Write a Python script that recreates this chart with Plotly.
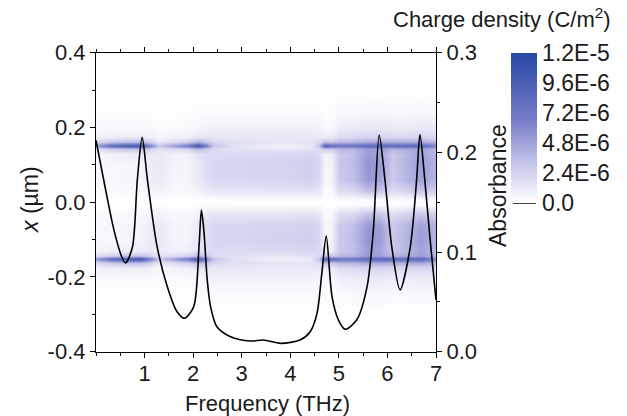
import numpy as np
import plotly.graph_objects as go

# ---- charge-density map: frequency nodes (THz) and position nodes (um) ----
FREQ = [0.0, 0.3, 0.6, 0.9, 1.1, 1.3, 1.6, 1.9, 2.1, 2.25, 2.4, 2.8, 3.2, 3.6,
        4.0, 4.4, 4.6, 4.72, 4.85, 5.0, 5.3, 5.6, 5.85, 6.1, 6.4, 6.7, 7.0]
# strength (1e-6 C/m^2) of the edge lines, the inner bands and the outer halo
EDGE_AMP = [5, 8, 9.5, 10, 7, 3, 5, 7, 10, 7, 3, 1.5, 1, 0.5,
            0.5, 0.8, 3, 9, 8, 7, 7, 8, 8, 8, 8, 8, 6]
BAND_AMP = [0.4, 0.4, 0.5, 0.6, 1.0, 1.2, 0.6, 0.6, 1.2, 1.8, 2.2, 2.2, 2.3, 2.4,
            2.4, 2.6, 2.2, 0.4, 0.8, 3.0, 3.5, 5.5, 5.0, 3.0, 4.0, 5.0, 4.0]
HALO_AMP = [0.6, 0.6, 0.6, 0.6, 0.6, 0.4, 0.5, 0.6, 1.0, 1.2, 1.4, 1.4, 1.4, 1.4,
            1.4, 1.4, 1.2, 0.6, 0.8, 1.8, 2.0, 2.2, 2.2, 2.0, 2.0, 2.2, 2.0]

POS = [-0.4, -0.3, -0.24, -0.2, -0.175, -0.162, -0.152, -0.142, -0.13, -0.1, -0.06,
       -0.03, -0.008, 0.008, 0.03, 0.06, 0.1, 0.13, 0.142, 0.152, 0.162, 0.175,
       0.2, 0.24, 0.3, 0.4]
EDGE_PROF = [0, 0, 0, 0, 0.05, 0.3, 1, 0.3, 0.05, 0, 0, 0, 0,
             0, 0, 0, 0, 0.05, 0.3, 1, 0.3, 0.05, 0, 0, 0, 0]
BAND_PROF = [0, 0, 0, 0, 0, 0, 0, 0.5, 0.85, 1, 0.95, 0.6, 0.05,
             0.05, 0.6, 0.95, 1, 0.85, 0.5, 0, 0, 0, 0, 0, 0, 0]
HALO_PROF = [0, 0, 0.2, 0.55, 0.85, 0.9, 0.2, 0, 0, 0, 0, 0, 0,
             0, 0, 0, 0, 0, 0, 0.2, 0.9, 0.85, 0.55, 0.2, 0, 0]

# ---- absorbance spectrum ----
FREQ_A = [0.0, 0.16, 0.37, 0.54, 0.61, 0.75, 0.85, 0.95, 1.06, 1.26, 1.47, 1.67,
          1.82, 2.01, 2.12, 2.17, 2.22, 2.29, 2.36, 2.49, 2.77, 3.18, 3.45, 3.8,
          4.2, 4.41, 4.55, 4.65, 4.74, 4.86, 4.99, 5.13, 5.37, 5.58, 5.71, 5.83,
          5.95, 6.09, 6.26, 6.47, 6.6, 6.67, 6.77, 6.88, 7.0]
ABSORB = [0.212, 0.172, 0.122, 0.094, 0.089, 0.105, 0.172, 0.215, 0.172, 0.105,
          0.065, 0.040, 0.0335, 0.045, 0.105, 0.142, 0.122, 0.072, 0.045, 0.025,
          0.015, 0.0107, 0.0117, 0.0084, 0.0117, 0.020, 0.0385, 0.079, 0.116,
          0.055, 0.032, 0.0225, 0.032, 0.065, 0.122, 0.2175, 0.172, 0.105, 0.062,
          0.105, 0.172, 0.218, 0.172, 0.112, 0.052]

X_TICKS = [1, 2, 3, 4, 5, 6, 7]
Y_TICKS = [-0.4, -0.2, 0.0, 0.2, 0.4]
Y_TICKTEXT = ["-0.4", "-0.2", "0.0", "0.2", "0.4"]
A_TICKS = [0.0, 0.1, 0.2, 0.3]
A_TICKTEXT = ["0.0", "0.1", "0.2", "0.3"]
CB_TICKS = [0.0, 2.4e-6, 4.8e-6, 7.2e-6, 9.6e-6, 1.2e-5]
CB_TICKTEXT = ["0.0", "2.4E-6", "4.8E-6", "7.2E-6", "9.6E-6", "1.2E-5"]

z = 1e-6 * (np.outer(EDGE_PROF, EDGE_AMP)
            + np.outer(BAND_PROF, BAND_AMP)
            + np.outer(HALO_PROF, HALO_AMP))

W, H = 627, 416
FONT = "Liberation Sans, Arial, sans-serif"
TXT = "#1a1a1a"
x0, x1 = 96 / W, 436 / W
y0, y1 = (H - 351.7) / H, (H - 52.7) / H

fig = go.Figure()
fig.add_trace(go.Heatmap(
    x=FREQ, y=POS, z=z, zmin=0, zmax=1.2e-5, zsmooth="best",
    colorscale=[[0, "rgb(255,255,255)"], [0.25, "rgb(200,200,235)"],
                [0.55, "rgb(120,125,200)"], [1, "rgb(38,72,165)"]],
    colorbar=dict(
        x=511 / W, xanchor="left", xpad=0,
        y=1 - 53 / H, yanchor="top", ypad=0,
        len=150, lenmode="pixels", thickness=26,
        outlinewidth=0, ticks="",
        tickvals=CB_TICKS, ticktext=CB_TICKTEXT,
        tickfont=dict(family=FONT, size=23, color=TXT),
    ),
    hoverinfo="skip",
))
fig.add_trace(go.Scatter(
    x=FREQ_A, y=ABSORB, yaxis="y2", mode="lines",
    line=dict(color="black", width=1.6, shape="spline", smoothing=0.8),
    showlegend=False,
))

axis_common = dict(showline=True, linecolor="black", linewidth=1.2,
                   ticks="outside", ticklen=5, tickcolor="black",
                   showgrid=False, zeroline=False,
                   tickfont=dict(family=FONT, size=22, color=TXT))

fig.update_layout(
    width=W, height=H, autosize=False,
    margin=dict(l=0, r=0, t=0, b=0),
    paper_bgcolor="white", plot_bgcolor="white",
    showlegend=False,
    xaxis=dict(axis_common, domain=[x0, x1], range=[0, 7],
               tickvals=X_TICKS, mirror="ticks", ticklabelstandoff=-3,
               minor=dict(dtick=0.5, tick0=0, ticks="outside", ticklen=3,
                          tickcolor="black"),
               automargin=False),
    yaxis=dict(axis_common, domain=[y0, y1], range=[-0.4, 0.4],
               tickvals=Y_TICKS, ticktext=Y_TICKTEXT,
               minor=dict(dtick=0.1, tick0=0, ticks="outside", ticklen=3,
                          tickcolor="black"),
               automargin=False),
    yaxis2=dict(axis_common, overlaying="y", side="right", anchor="x",
                range=[0, 0.3], tickvals=A_TICKS, ticktext=A_TICKTEXT,
                minor=dict(dtick=0.05, tick0=0, ticks="outside", ticklen=3,
                           tickcolor="black"),
                automargin=False),
)

ann_font = dict(family=FONT, size=23, color=TXT)
fig.add_annotation(text="Frequency (THz)", xref="paper", yref="paper",
                   x=267 / W, y=1 - 403 / H, xanchor="center", yanchor="middle",
                   showarrow=False, font=dict(family=FONT, size=22, color=TXT))
fig.add_annotation(text="<i>x</i> (µm)", xref="paper", yref="paper",
                   x=30 / W, y=1 - 200 / H, xanchor="center", yanchor="middle",
                   textangle=-90, showarrow=False, font=ann_font)
fig.add_annotation(text="Absorbance", xref="paper", yref="paper",
                   x=498 / W, y=1 - 186 / H, xanchor="center", yanchor="middle",
                   textangle=-90, showarrow=False, font=ann_font)
fig.add_annotation(text="Charge density (C/m<sup>2</sup>)", xref="paper", yref="paper",
                   x=613 / W, y=1 - 18 / H, xanchor="right", yanchor="middle",
                   showarrow=False, font=dict(family=FONT, size=22, color=TXT))
# short rule marking the zero end of the colour scale
fig.add_shape(type="line", xref="paper", yref="paper",
              x0=513 / W, x1=536 / W, y0=1 - 203 / H, y1=1 - 203 / H,
              line=dict(color="black", width=1.5))

fig.write_html("out.html")
